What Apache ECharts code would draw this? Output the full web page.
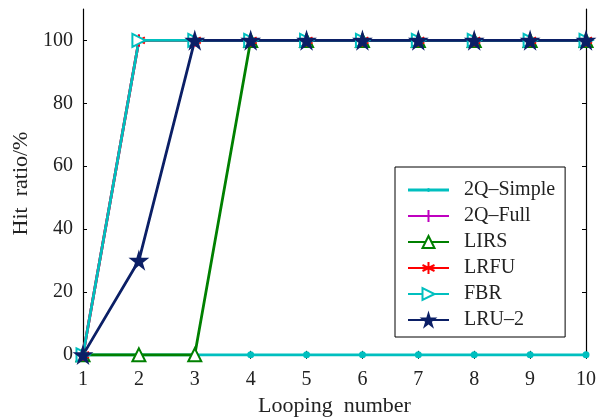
<!DOCTYPE html>
<html><head><meta charset="utf-8">
<script src="https://cdn.jsdelivr.net/npm/echarts@6/dist/echarts.min.js"></script>
<style>html,body{margin:0;padding:0;background:#fff}#c{width:609px;height:418px}</style>
</head><body><div id="c"></div>
<script>
const loops = [1,2,3,4,5,6,7,8,9,10];
const q2Simple = [0,0,0,0,0,0,0,0,0,0];
const q2Full   = [0,100,100,100,100,100,100,100,100,100];
const lirs     = [0,0,0,100,100,100,100,100,100,100];
const lrfu     = [0,100,100,100,100,100,100,100,100,100];
const fbr      = [0,100,100,100,100,100,100,100,100,100];
const lru2     = [0,30,100,100,100,100,100,100,100,100];
const yTicks = [0,20,40,60,80,100];
const names = ['2Q\u2013Simple','2Q\u2013Full','LIRS','LRFU','FBR','LRU\u20132'];

const FONT = 'Liberation Serif';
const pair = a => a.map((v,i)=>[loops[i],v]);
const starPath = 'path://M50,0L61,35L98,35L68,57L79,91L50,70L21,91L32,57L2,35L39,35Z';
const plusPath = 'path://M50,0L50,100M0,50L100,50';
const astPath = 'path://M50,0L50,100M7,25L93,75M7,75L93,25';
const dotLineIcon = 'path://M0,0L0,0M410,150L410,150M0,61L410,61L410,89L0,89ZM205,54A21,21,0,1,1,205,96A21,21,0,1,1,205,54Z';

function s(name, data, color, symbol, size, extra){
  return Object.assign({
    name, type:'line', data: pair(data), symbol, symbolSize:size,
    showAllSymbol:true,
    lineStyle:{color, width:2.8},
    itemStyle:{color, borderColor:color, borderWidth:2},
    emphasis:{disabled:true}, animation:false
  }, extra||{});
}

const chart = echarts.init(document.getElementById('c'));
chart.setOption({
  animation:false,
  grid:{left:83, top:9, right:23, bottom:60, outerBoundsMode:'none', containLabel:false},
  legend:{
    orient:'vertical', left:395, top:167,
    padding:[13,10,7,12], itemGap:6, itemWidth:41, itemHeight:15,
    borderColor:'#000', borderWidth:1, backgroundColor:'#fff',
    textStyle:{fontFamily:FONT, fontSize:20, color:'#222', lineHeight:20, padding:[0,0,0,10]},
    data:[{name:names[0], icon:dotLineIcon, itemStyle:{color:'#00BFBF', borderWidth:0}}, names[1], names[2], names[3], names[4], names[5]]
  },
  xAxis:[{
    type:'value', min:1, max:10, interval:1,
    name:'Looping  number', nameLocation:'middle', nameGap:36,
    nameTextStyle:{fontFamily:FONT, fontSize:22, color:'#222'},
    axisLine:{lineStyle:{color:'#000', width:1.2}},
    axisTick:{inside:true, length:4, lineStyle:{color:'#000'}},
    axisLabel:{fontFamily:FONT, fontSize:20, color:'#222', margin:12},
    splitLine:{show:false}
  },{
    type:'value', min:1, max:10, interval:1, position:'top',
    axisLine:{lineStyle:{color:'#000', width:1.2}},
    axisTick:{inside:true, length:4, lineStyle:{color:'#000'}},
    axisLabel:{show:false}, splitLine:{show:false}
  }],
  yAxis:[{
    type:'value', min:-1, max:110,
    name:'Hit  ratio/%', nameLocation:'middle', nameGap:48,
    nameTextStyle:{fontFamily:FONT, fontSize:22, color:'#222'},
    axisLine:{show:true, lineStyle:{color:'#000', width:1.2}},
    axisTick:{inside:true, length:4, customValues:yTicks, lineStyle:{color:'#000'}},
    axisLabel:{fontFamily:FONT, fontSize:20, color:'#222', margin:10, customValues:yTicks},
    splitLine:{show:false}
  },{
    type:'value', min:-1, max:110, position:'right',
    axisLine:{show:true, lineStyle:{color:'#000', width:1.2}},
    axisTick:{inside:true, length:4, customValues:yTicks, lineStyle:{color:'#000'}},
    axisLabel:{show:false, customValues:yTicks}, splitLine:{show:false}
  }],
  series:[
    s(names[0], q2Simple, '#00BFBF', 'circle', 5),
    s(names[1], q2Full, '#BF00BF', plusPath, 12),
    s(names[2], lirs, '#008000', 'emptyTriangle', 13),
    s(names[3], lrfu, '#FF0000', astPath, 12),
    s(names[4], fbr, '#00BFBF', 'emptyTriangle', 13, {symbolRotate:-90}),
    s(names[5], lru2, '#0B1F66', starPath, 15)
  ]
});
</script></body></html>
